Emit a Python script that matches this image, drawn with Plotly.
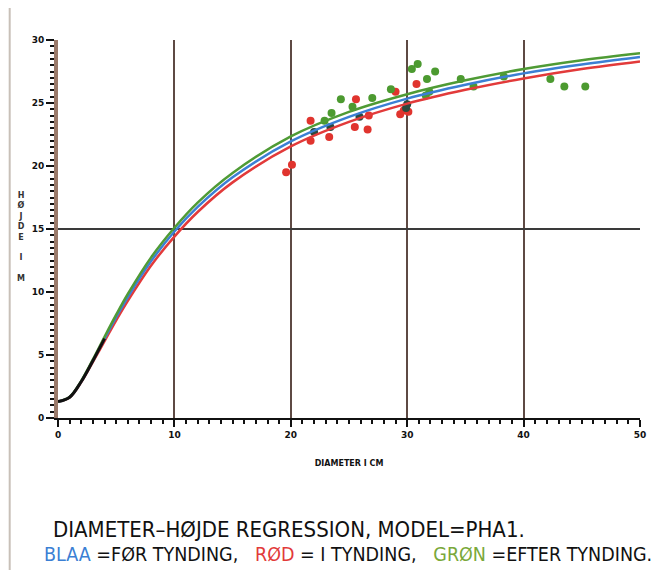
import plotly.graph_objects as go

# Regression curves
curve_d = [0, 1, 2, 3, 4, 5, 6, 8, 10, 12, 15, 20, 25, 30, 35, 40, 45, 50]
blaa_h = [1.3, 1.65, 2.9, 4.55, 6.3, 8.0, 9.6, 12.45, 14.8, 16.75, 19.1, 21.95, 23.9, 25.35, 26.45, 27.35, 28.05, 28.65]
rod_h = [1.3, 1.63, 2.85, 4.45, 6.1, 7.75, 9.3, 12.1, 14.4, 16.35, 18.7, 21.55, 23.5, 24.95, 26.05, 26.95, 27.7, 28.3]
gron_h = [1.3, 1.67, 2.95, 4.65, 6.45, 8.2, 9.85, 12.75, 15.1, 17.1, 19.45, 22.35, 24.3, 25.7, 26.8, 27.7, 28.4, 28.95]

# Observations
rod_d = [19.6, 20.1, 21.7, 21.7, 23.3, 25.6, 25.5, 26.6, 26.7, 29.0, 29.4, 29.7, 30.1, 30.8]
rod_y = [19.5, 20.1, 23.6, 22.0, 22.3, 25.3, 23.1, 22.9, 24.0, 25.9, 24.1, 24.4, 24.3, 26.5]
gron_d = [22.9, 23.5, 24.3, 25.3, 27.0, 28.6, 30.4, 30.9, 31.7, 32.4, 31.9, 31.6, 34.6, 35.7, 38.3, 42.3, 43.5, 45.3]
gron_y = [23.6, 24.2, 25.3, 24.7, 25.4, 26.1, 27.7, 28.1, 26.9, 27.5, 25.9, 25.6, 26.9, 26.3, 27.1, 26.9, 26.3, 26.3]
blaa_d = [22.0, 23.4, 25.9, 29.9, 30.0]
blaa_y = [22.7, 23.1, 23.9, 24.6, 24.9]

x_ticks = [0, 10, 20, 30, 40, 50]
y_ticks = [0, 5, 10, 15, 20, 25, 30]

BLUE = '#3b7fd4'
RED = '#e23a3a'
GREEN = '#4f9b35'

fig = go.Figure()

fig.add_trace(go.Scatter(x=rod_d, y=rod_y, mode='markers',
                         marker=dict(color='#e0342e', size=8), showlegend=False))
fig.add_trace(go.Scatter(x=gron_d, y=gron_y, mode='markers',
                         marker=dict(color='#4c9a30', size=8), showlegend=False))
fig.add_trace(go.Scatter(x=blaa_d, y=blaa_y, mode='markers',
                         marker=dict(color='#2c4a3e', size=8), showlegend=False))

for h, c in [(rod_h, RED), (blaa_h, BLUE), (gron_h, GREEN)]:
    fig.add_trace(go.Scatter(x=curve_d, y=h, mode='lines', line=dict(color=c, width=2.5, shape='spline'),
                             showlegend=False))
# dark overlap near origin
fig.add_trace(go.Scatter(x=curve_d[:5], y=blaa_h[:5], mode='lines',
                         line=dict(color='#111111', width=3, shape='spline'), showlegend=False))

tickfont = dict(family='DejaVu Sans', size=9, color='#111', weight='bold')

fig.update_layout(
    width=668, height=570,
    margin=dict(l=50, r=36, t=32, b=160),
    paper_bgcolor='white', plot_bgcolor='white',
    xaxis=dict(range=[0, 50], tickvals=x_ticks, ticktext=[str(v) for v in x_ticks],
               showgrid=True, gridcolor='#5e4a44', gridwidth=1.5,
               showline=True, linecolor='#111', linewidth=2, zeroline=False,
               ticks='outside', ticklen=7, tickwidth=2, tickcolor='#111',
               minor=dict(dtick=1, ticks='outside', ticklen=4, tickwidth=2, tickcolor='#111', showgrid=False),
               tickfont=tickfont,
               title=dict(text='DIAMETER I CM', font=dict(family='DejaVu Sans', size=8, color='#111', weight='bold'),
                          standoff=22)),
    yaxis=dict(range=[0, 30], tickvals=y_ticks, ticktext=[str(v) for v in y_ticks],
               showgrid=False, zeroline=True, zerolinecolor='#9a9a9a', zerolinewidth=3,
               showline=True, linecolor='#9a7a6a', linewidth=4,
               ticks='outside', ticklen=8, tickwidth=2, tickcolor='#111',
               minor=dict(dtick=0.5, ticks='outside', ticklen=4, tickwidth=2, tickcolor='#111'),
               tickfont=tickfont),
    yaxis2=dict(range=[0, 30], overlaying='y', dtick=15, showgrid=True, gridcolor='#3a3a3a',
                gridwidth=1.5, showticklabels=False, zeroline=False, showline=False),
)
fig.add_trace(go.Scatter(x=[None], y=[None], yaxis='y2', showlegend=False))

fig.add_annotation(xref='paper', yref='paper', x=-0.064, y=0.607, xanchor='center', yanchor='top',
                   text='H<br>Ø<br>J<br>D<br>E<br> <br>I<br> <br>M', showarrow=False,
                   font=dict(family='DejaVu Sans', size=8, color='#333', weight='bold'))

capfont = dict(family='DejaVu Sans Condensed', size=22, color='#111')
fig.add_annotation(xref='paper', yref='paper', x=-0.012, y=-0.2937, xanchor='left', yanchor='middle',
                   text='DIAMETER\u2013HØJDE REGRESSION, MODEL=PHA1.', showarrow=False, font=capfont)

sp = '\u00a0'
line2_text = ('<span style="color:#3b7fd4">BLAA</span> =FØR TYNDING,' + sp * 2 + ' '
              '<span style="color:#e23a3a">RØD</span> = I TYNDING,' + sp * 2 + ' '
              '<span style="color:#7aa83a">GRØN</span> =EFTER TYNDING.')
fig.add_annotation(xref='paper', yref='paper', x=-0.0275, y=-0.3624, xanchor='left', yanchor='middle',
                   text=line2_text, showarrow=False, font=dict(capfont, size=19.5))

# frame lines
fig.add_shape(type='line', xref='paper', yref='paper', x0=-0.083, x1=-0.083, y0=-0.42, y1=1.1,
              line=dict(color='#c8c0b8', width=2))
fig.add_shape(type='line', xref='paper', yref='paper', x0=0.24, x1=0.66, y0=1.095, y1=1.095,
              line=dict(color='#e0dcd8', width=1.5))

fig.write_html('out.html')
